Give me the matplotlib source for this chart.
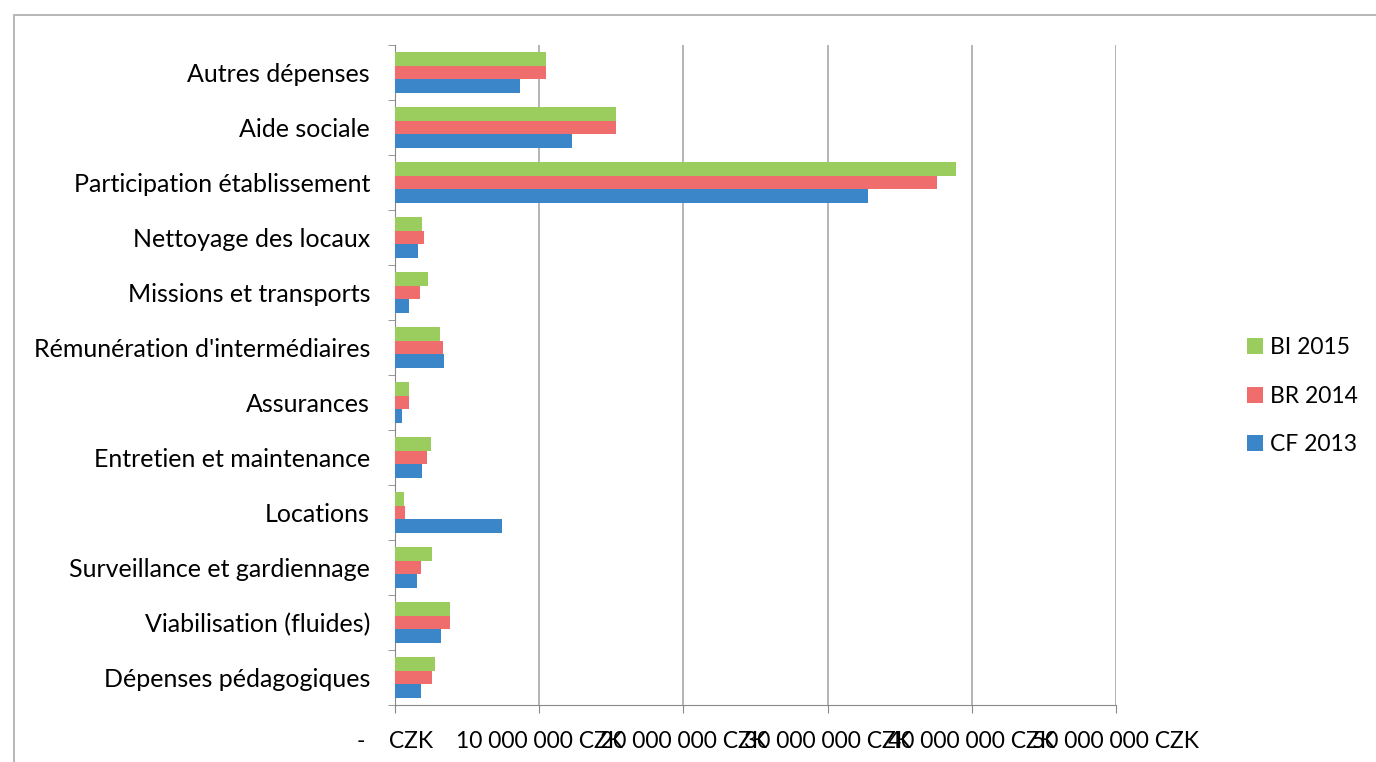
import matplotlib
matplotlib.use("Agg")
import matplotlib.pyplot as plt
from matplotlib.patches import Rectangle
import numpy as np

categories = [
    "Autres dépenses",
    "Aide sociale",
    "Participation établissement",
    "Nettoyage des locaux",
    "Missions et transports",
    "Rémunération d'intermédiaires",
    "Assurances",
    "Entretien et maintenance",
    "Locations",
    "Surveillance et gardiennage",
    "Viabilisation (fluides)",
    "Dépenses pédagogiques",
]
bi_2015 = [10.5, 15.3, 38.9, 1.9, 2.3, 3.1, 1.0, 2.5, 0.6, 2.6, 3.8, 2.8]
br_2014 = [10.5, 15.3, 37.6, 2.0, 1.7, 3.3, 1.0, 2.2, 0.7, 1.8, 3.8, 2.6]
cf_2013 = [8.7, 12.3, 32.8, 1.6, 1.0, 3.4, 0.5, 1.9, 7.4, 1.5, 3.2, 1.8]
series_names = ["BI 2015", "BR 2014", "CF 2013"]
tick_labels = ["-    CZK", "10 000 000 CZK", "20 000 000 CZK", "30 000 000 CZK",
               "40 000 000 CZK", "50 000 000 CZK"]

colors = ["#9BCD5E", "#F06D6D", "#3B86C9"]
plt.rcParams['font.family'] = ['Lato', 'DejaVu Sans']

fig = plt.figure(figsize=(13.76, 7.62), dpi=100)
ax = fig.add_axes([395/1376, 1-705/762, (1116-395)/1376, (705-45)/762])

y = np.arange(len(categories))
h = 0.25
scale = 1e6
for vals, off, c, name in zip([bi_2015, br_2014, cf_2013], [-h, 0, h], colors, series_names):
    ax.barh(y + off, np.array(vals) * scale, height=h, color=c, label=name, zorder=3)

ax.set_ylim(len(categories) - 0.5, -0.5)
ax.set_xlim(0, 50e6)
ax.set_yticks(y)
ax.set_yticklabels(categories, fontsize=18)
ax.set_yticks(np.arange(len(categories) + 1) - 0.5, minor=True)
ax.tick_params(axis='y', which='major', length=0, pad=18)
ax.tick_params(axis='y', which='minor', length=5, color='#888888')
xt = np.arange(0, 51e6, 10e6)
ax.set_xticks(xt)
ax.set_xticklabels(tick_labels, fontsize=16.5)
ax.tick_params(axis='x', length=6, color='#888888', pad=13)
ax.xaxis.grid(True, color='#A8A8A8', linewidth=1.2, zorder=0)
for s in ['top', 'right']:
    ax.spines[s].set_visible(False)
ax.spines['left'].set_color('#888888')
ax.spines['bottom'].set_color('#888888')

leg = ax.legend(loc='center left', bbox_to_anchor=(1226/1376, 0.48), bbox_transform=fig.transFigure,
                frameon=False, fontsize=16.5, handlelength=0.7, handleheight=0.7,
                handletextpad=0.3, labelspacing=1.2)

fig.patches.append(Rectangle((14/1376, -0.1), 1.2, 1 - 15/762 + 0.1, transform=fig.transFigure,
                             fill=False, edgecolor='#AAAAAA', linewidth=1.2))

fig.savefig("out.png", dpi=100)
